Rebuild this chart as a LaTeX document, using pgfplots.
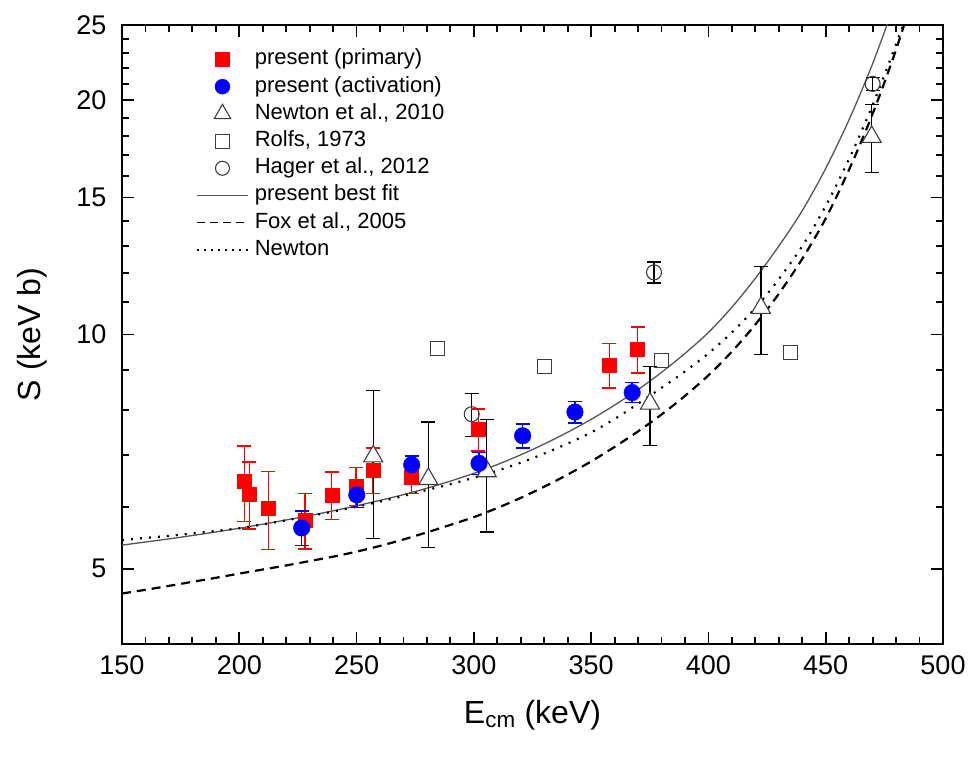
\documentclass[border=0pt]{standalone}
\usepackage{fontspec}
\setmainfont{Liberation Sans}
\usepackage{pgfplots}
\pgfplotsset{compat=1.18}
\usetikzlibrary{calc}
\definecolor{fitgray}{RGB}{85,85,85}
\definecolor{symgray}{RGB}{60,60,60}

\begin{document}
\begin{tikzpicture}
\begin{axis}[
  scale only axis, width=821pt, height=619pt,
  xmin=150, xmax=500, ymode=log, ymin=4, ymax=25,
  xtick={150,200,...,500}, minor x tick num=4,
  ytick={5,10,15,20,25}, yticklabels={5,10,15,20,25},
  minor ytick={6,7,8,9,11,12,13,14,16,17,18,19,21,22,23,24},
  axis line style={line width=2.5pt},
  major tick length=12pt, minor tick length=7pt,
  tick style={black, line width=1.8pt},
  tick label style={font=\fontsize{27}{32}\selectfont},
  xticklabel style={yshift=-8pt},
  yticklabel style={xshift=-12pt},
  /pgf/number format/assume math mode=true,
  /pgf/number format/set thousands separator={},
  xlabel={E\textsubscript{cm} (keV)}, ylabel={S (keV b)},
  every axis x label/.style={at={(axis description cs:0.5,-0.1147)}, anchor=center,
    font=\fontsize{32}{38}\selectfont},
  every axis y label/.style={at={(axis description cs:-0.1096,0.5)}, anchor=center, rotate=90,
    font=\fontsize{32}{38}\selectfont},
  legend cell align=left,
  legend image code/.code={\draw[mark repeat=2,mark phase=2,#1] plot coordinates {(0pt,0pt) (25.5pt,0pt) (51pt,0pt)};},
  legend style={draw=none, fill=none, at={(axis description cs:0.0901,0.9616)}, anchor=north west,
    font=\fontsize{22}{26}\selectfont, row sep=6.2pt, column sep=6pt, inner sep=0pt,
    nodes={inner sep=0pt, text height=16pt, text depth=5pt}},
]
% model curves
\addplot[forget plot, smooth, fitgray, line width=1.3pt] coordinates {
  (150,5.36) (160,5.41) (170,5.46) (180,5.515) (190,5.573) (200,5.635) (210,5.703) (220,5.775)
  (230,5.851) (240,5.933) (250,6.023) (260,6.12) (270,6.225) (280,6.344) (290,6.479) (300,6.63)
  (310,6.804) (320,7.004) (330,7.232) (340,7.489) (350,7.779) (360,8.113) (370,8.495) (380,8.94)
  (390,9.455) (400,10.06) (410,10.84) (420,11.81) (430,12.99) (440,14.43) (450,16.35) (460,18.90)
  (470,22.29) (480,26.95)};
\addplot[forget plot, smooth, black, line width=2.2pt, dash pattern=on 9pt off 6pt] coordinates {
  (150,4.645) (160,4.696) (170,4.751) (180,4.808) (190,4.866) (200,4.927) (210,4.987) (220,5.047)
  (230,5.113) (240,5.18) (250,5.258) (260,5.348) (270,5.451) (280,5.567) (290,5.691) (300,5.824)
  (310,5.983) (320,6.165) (330,6.372) (340,6.606) (350,6.868) (360,7.17) (370,7.507) (380,7.892)
  (390,8.338) (400,8.862) (410,9.505) (420,10.30) (430,11.28) (440,12.51) (450,14.10) (460,16.30)
  (470,19.22) (480,23.24) (490,28.9)};
\addplot[forget plot, smooth, black, line width=2.2pt, dash pattern=on 2pt off 7pt] coordinates {
  (150,5.44) (160,5.475) (170,5.509) (180,5.548) (190,5.59) (200,5.635) (210,5.70) (220,5.769)
  (230,5.842) (240,5.921) (250,6.005) (260,6.099) (270,6.20) (280,6.312) (290,6.42) (300,6.544)
  (310,6.682) (320,6.843) (330,7.03) (340,7.242) (350,7.483) (360,7.788) (370,8.147) (380,8.538)
  (390,8.963) (400,9.456) (410,10.06) (420,10.81) (430,11.78) (440,12.99) (450,14.63) (460,16.82)
  (470,19.73) (480,23.61) (490,28.5)};

% Newton et al., 2010
\addplot[forget plot, only marks, mark=triangle*, mark size=11pt,
  mark options={fill=white, draw=symgray, line width=1.1pt},
  error bars/.cd, y dir=both, y explicit,
  error bar style={black, line width=1.4pt},
  error mark options={rotate=90, black, mark size=7pt, line width=1.4pt}] coordinates {
  (257.1,6.97) +- (0,1.5)
  (280.6,6.52) +- (0,1.2)
  (305.5,6.67) +- (0,1.1)
  (375.1,8.15) +- (0,0.95)
  (422.4,10.82) +- (0,1.4)
  (469.6,17.95) +- (0,1.8)};
% Rolfs, 1973
\addplot[forget plot, only marks, mark=square, mark size=7pt,
  mark options={draw=symgray, line width=1.1pt}] coordinates {
  (284.4,9.59) (330.0,9.09) (380.1,9.27) (435.1,9.48)};
% Hager et al., 2012
\addplot[forget plot, only marks, mark=o, mark size=7.5pt,
  mark options={draw=symgray, line width=1.1pt},
  error bars/.cd, y dir=both, y explicit,
  error bar style={black, line width=1.4pt},
  error mark options={rotate=90, black, mark size=7pt, line width=1.4pt}] coordinates {
  (299.1,7.90) +- (0,0.5)
  (376.8,12.02) +- (0,0.37)
  (470.0,21.0) +- (0,0.4)};
% present (primary)
\addplot[forget plot, only marks, mark=square*, mark size=7pt, red,
  mark options={fill=red, draw=red},
  error bars/.cd, y dir=both, y explicit,
  error bar style={red, line width=1.4pt},
  error mark options={rotate=90, red, mark size=7pt, line width=1.4pt}] coordinates {
  (202.1,6.47) +- (0,0.72)
  (204.3,6.24) +- (0,0.62)
  (212.4,5.98) +- (0,0.69)
  (228.0,5.77) +- (0,0.47)
  (239.4,6.22) +- (0,0.44)
  (249.8,6.39) +- (0,0.36)
  (256.9,6.70) +- (0,0.45)
  (273.5,6.55) +- (0,0.30)
  (301.9,7.55) +- (0,0.47)
  (357.7,9.13) +- (0,0.60)
  (369.8,9.57) +- (0,0.65)};
% present (activation)
\addplot[forget plot, only marks, mark=*, mark size=8.3pt, blue,
  mark options={fill=blue, draw=blue},
  error bars/.cd, y dir=both, y explicit,
  error bar style={blue, line width=1.4pt},
  error mark options={rotate=90, blue, mark size=7pt, line width=1.4pt}] coordinates {
  (226.6,5.64) +- (0,0.29)
  (250.1,6.22) +- (0,0.23)
  (273.5,6.80) +- (0,0.18)
  (302.2,6.83) +- (0,0.22)
  (320.8,7.41) +- (0,0.26)
  (343.1,7.95) +- (0,0.25)
  (367.5,8.42) +- (0,0.25)};

\addlegendimage{only marks, mark=square*, mark size=7pt, red, mark options={fill=red}}
\addlegendentry{present (primary)}
\addlegendimage{only marks, mark=*, mark size=7.5pt, blue, mark options={fill=blue}}
\addlegendentry{present (activation)}
\addlegendimage{only marks, mark=triangle, mark size=9.5pt, symgray, mark options={line width=1.1pt}}
\addlegendentry{Newton et al., 2010}
\addlegendimage{only marks, mark=square, mark size=7pt, symgray, mark options={line width=1.1pt}}
\addlegendentry{Rolfs, 1973}
\addlegendimage{only marks, mark=o, mark size=7pt, symgray, mark options={line width=1.1pt}}
\addlegendentry{Hager et al., 2012}
\addlegendimage{fitgray, line width=1.3pt}
\addlegendentry{present best fit}
\addlegendimage{black, line width=1.4pt, dash pattern=on 8pt off 5pt}
\addlegendentry{Fox et al., 2005}
\addlegendimage{black, line width=1.6pt, dash pattern=on 2pt off 5pt}
\addlegendentry{Newton}
\end{axis}
\pgfresetboundingbox
\path[use as bounding box] ($(current axis.south west)+(-122pt,-115pt)$) rectangle ($(current axis.south west)+(853pt,644pt)$);
\end{tikzpicture}
\end{document}
